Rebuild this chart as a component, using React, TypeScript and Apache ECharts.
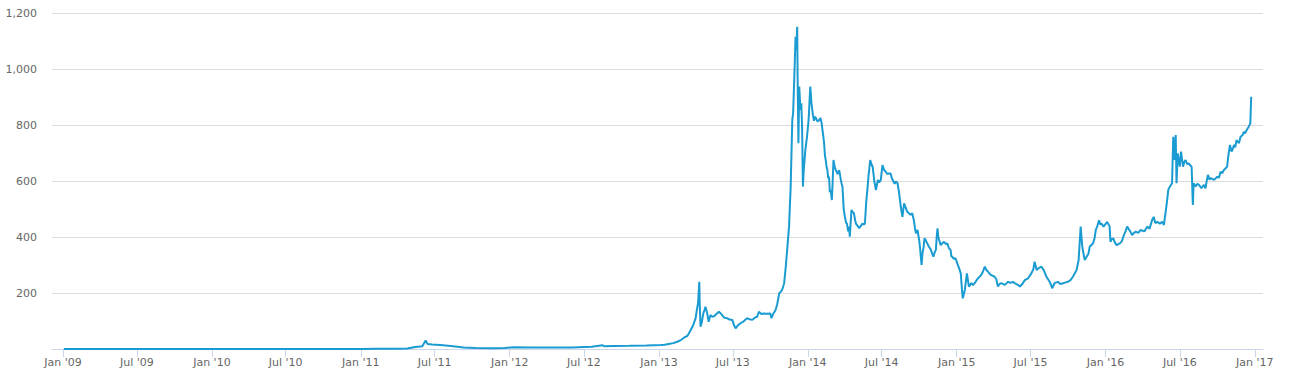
import React, { useEffect, useRef } from "react";
import * as echarts from "echarts";

// ---- Data ----
const dates2009_2012 = [
  "2009-01-03", "2010-07-18", "2010-10-01", "2010-11-06", "2011-01-01", "2011-02-10",
  "2011-04-01", "2011-04-25", "2011-05-15", "2011-06-01", "2011-06-09", "2011-06-14",
  "2011-06-25", "2011-07-15", "2011-08-10", "2011-09-10", "2011-10-10", "2011-11-18",
  "2011-12-20", "2012-01-10", "2012-02-20", "2012-04-01", "2012-06-01", "2012-07-20",
  "2012-08-16", "2012-08-20", "2012-09-10", "2012-10-20", "2012-12-01",
];
const prices2009_2012 = [
  0, 0.06, 0.06, 0.3, 0.3, 1,
  0.8, 1.6, 7, 10, 30, 18,
  16, 14, 11, 5, 3.5, 2.3,
  3.5, 6.5, 5, 5, 5.5, 8,
  13, 10, 11, 11.5, 12.5,
];

const dates2013 = [
  "2013-01-06", "2013-01-15", "2013-01-25", "2013-02-05", "2013-02-15", "2013-02-24",
  "2013-03-05", "2013-03-12", "2013-03-20", "2013-03-26", "2013-04-01", "2013-04-04",
  "2013-04-07", "2013-04-10", "2013-04-11", "2013-04-13", "2013-04-16", "2013-04-20",
  "2013-04-23", "2013-04-25", "2013-04-29", "2013-05-03", "2013-05-07", "2013-05-12",
  "2013-05-17", "2013-05-22", "2013-05-28", "2013-06-01", "2013-06-05", "2013-06-10",
  "2013-06-17", "2013-06-23", "2013-06-30", "2013-07-04", "2013-07-08", "2013-07-14",
  "2013-07-20", "2013-07-27", "2013-08-05", "2013-08-11", "2013-08-18", "2013-08-24",
  "2013-08-30", "2013-09-03", "2013-09-09", "2013-09-15", "2013-09-22", "2013-10-01",
  "2013-10-04", "2013-10-08", "2013-10-14", "2013-10-18", "2013-10-23", "2013-10-27",
  "2013-10-30", "2013-11-04", "2013-11-08", "2013-11-12", "2013-11-16", "2013-11-20",
  "2013-11-24", "2013-11-26", "2013-11-29", "2013-12-02", "2013-12-04", "2013-12-06",
  "2013-12-07", "2013-12-09", "2013-12-11", "2013-12-14", "2013-12-16", "2013-12-18",
  "2013-12-20", "2013-12-22", "2013-12-26", "2013-12-30",
];
const prices2013 = [
  14, 15, 18, 21, 26, 32,
  42, 47, 68, 85, 110, 140,
  165, 240, 160, 80, 95, 128,
  140, 151, 130, 97, 121, 115,
  118, 125, 133, 128, 121, 112,
  110, 105, 104, 85, 74, 85,
  92, 98, 110, 106, 104, 112,
  115, 133, 125, 127, 126, 127,
  110, 125, 139, 160, 199, 205,
  211, 235, 294, 365, 437, 580,
  818, 842, 973, 1115, 1068, 1151,
  973, 735, 937, 854, 878, 794,
  580, 639, 711, 758,
];

const dates2014 = [
  "2014-01-03", "2014-01-07", "2014-01-10", "2014-01-13", "2014-01-16", "2014-01-19",
  "2014-01-21", "2014-01-25", "2014-01-29", "2014-02-01", "2014-02-04", "2014-02-06",
  "2014-02-08", "2014-02-10", "2014-02-12", "2014-02-14", "2014-02-16", "2014-02-18",
  "2014-02-20", "2014-02-22", "2014-02-24", "2014-02-26", "2014-03-01", "2014-03-03",
  "2014-03-05", "2014-03-08", "2014-03-11", "2014-03-15", "2014-03-19", "2014-03-23",
  "2014-03-25", "2014-03-27", "2014-03-30", "2014-04-02", "2014-04-05", "2014-04-07",
  "2014-04-10", "2014-04-12", "2014-04-14", "2014-04-16", "2014-04-18", "2014-04-21",
  "2014-04-24", "2014-04-27", "2014-04-29", "2014-05-03", "2014-05-07", "2014-05-11",
  "2014-05-15", "2014-05-18", "2014-05-21", "2014-05-24", "2014-05-27", "2014-05-30",
  "2014-06-03", "2014-06-06", "2014-06-09", "2014-06-13", "2014-06-17", "2014-06-20",
  "2014-06-22", "2014-06-25", "2014-06-29", "2014-07-03", "2014-07-07", "2014-07-11",
  "2014-07-15", "2014-07-19", "2014-07-23", "2014-07-26", "2014-07-30", "2014-08-02",
  "2014-08-05", "2014-08-09", "2014-08-13", "2014-08-17", "2014-08-19", "2014-08-21",
  "2014-08-25", "2014-08-29", "2014-09-02", "2014-09-06", "2014-09-10", "2014-09-14",
  "2014-09-18", "2014-09-21", "2014-09-23", "2014-09-27", "2014-10-01", "2014-10-03",
  "2014-10-05", "2014-10-07", "2014-10-09", "2014-10-12", "2014-10-14", "2014-10-17",
  "2014-10-21", "2014-10-25", "2014-10-30", "2014-11-02", "2014-11-05", "2014-11-08",
  "2014-11-11", "2014-11-13", "2014-11-15", "2014-11-17", "2014-11-19", "2014-11-23",
  "2014-11-27", "2014-12-01", "2014-12-05", "2014-12-09", "2014-12-13", "2014-12-17",
  "2014-12-19", "2014-12-21", "2014-12-25", "2014-12-29",
];
const prices2014 = [
  818, 937, 878, 842, 815, 830,
  824, 812, 818, 825, 806, 782,
  760, 735, 690, 675, 650, 639,
  610, 615, 560, 568, 532, 600,
  675, 650, 639, 625, 639, 604,
  590, 580, 500, 472, 450, 448,
  420, 437, 401, 450, 496, 490,
  485, 460, 448, 440, 431, 440,
  448, 445, 448, 520, 568, 620,
  675, 660, 651, 600, 568, 590,
  604, 595, 604, 657, 640, 633,
  625, 627, 627, 610, 598, 590,
  598, 592, 556, 508, 490, 472,
  520, 505, 490, 485, 479, 485,
  460, 430, 413, 425, 389, 365,
  330, 300, 340, 365, 395, 389,
  377, 365, 354, 340, 330, 345,
  354, 400, 431, 400, 389, 371,
  378, 383, 375, 377, 360, 354,
  330, 330, 322, 324,
];

const dates2015 = [
  "2015-01-01", "2015-01-07", "2015-01-11", "2015-01-14", "2015-01-16", "2015-01-21",
  "2015-01-26", "2015-01-31", "2015-02-06", "2015-02-10", "2015-02-14", "2015-02-18",
  "2015-02-22", "2015-03-02", "2015-03-06", "2015-03-11", "2015-03-15", "2015-03-19",
  "2015-03-23", "2015-03-27", "2015-04-04", "2015-04-08", "2015-04-12", "2015-04-16",
  "2015-04-20", "2015-04-29", "2015-05-07", "2015-05-13", "2015-05-19", "2015-05-23",
  "2015-05-31", "2015-06-05", "2015-06-11", "2015-06-17", "2015-06-25", "2015-07-03",
  "2015-07-08", "2015-07-11", "2015-07-16", "2015-07-22", "2015-07-28", "2015-08-03",
  "2015-08-09", "2015-08-17", "2015-08-20", "2015-08-23", "2015-08-29", "2015-09-06",
  "2015-09-12", "2015-09-19", "2015-09-25", "2015-10-01", "2015-10-07", "2015-10-13",
  "2015-10-22", "2015-10-27", "2015-11-01", "2015-11-03", "2015-11-05", "2015-11-08",
  "2015-11-11", "2015-11-16", "2015-11-20", "2015-11-23", "2015-12-01", "2015-12-05",
  "2015-12-08", "2015-12-12", "2015-12-16", "2015-12-19", "2015-12-22", "2015-12-27",
];
const prices2015 = [
  312, 288, 270, 211, 181, 211,
  270, 223, 235, 228, 235, 244,
  252, 264, 275, 294, 282, 276,
  268, 264, 258, 250, 223, 232,
  235, 229, 240, 236, 240, 235,
  229, 223, 232, 246, 252, 270,
  285, 312, 282, 290, 294, 280,
  258, 240, 230, 217, 235, 240,
  232, 235, 238, 240, 246, 258,
  282, 318, 437, 400, 365, 340,
  318, 330, 340, 365, 377, 395,
  425, 440, 460, 445, 448, 437,
];

const dates2016 = [
  "2016-01-05", "2016-01-11", "2016-01-13", "2016-01-16", "2016-01-20", "2016-01-24",
  "2016-01-28", "2016-02-05", "2016-02-10", "2016-02-15", "2016-02-19", "2016-02-23",
  "2016-03-02", "2016-03-06", "2016-03-10", "2016-03-15", "2016-03-21", "2016-03-27",
  "2016-04-05", "2016-04-12", "2016-04-18", "2016-04-24", "2016-04-28", "2016-05-02",
  "2016-05-07", "2016-05-13", "2016-05-19", "2016-05-23", "2016-05-27", "2016-05-31",
  "2016-06-03", "2016-06-07", "2016-06-12", "2016-06-15", "2016-06-18", "2016-06-21",
  "2016-06-23", "2016-06-26", "2016-07-01", "2016-07-04", "2016-07-09", "2016-07-12",
  "2016-07-15", "2016-07-19", "2016-07-23", "2016-07-27", "2016-07-30", "2016-08-02",
  "2016-08-04", "2016-08-09", "2016-08-13", "2016-08-17", "2016-08-23", "2016-08-29",
  "2016-09-02", "2016-09-05", "2016-09-08", "2016-09-12", "2016-09-15", "2016-09-23",
  "2016-10-01", "2016-10-05", "2016-10-09", "2016-10-13", "2016-10-17", "2016-10-25",
  "2016-10-28", "2016-11-01", "2016-11-05", "2016-11-08", "2016-11-11", "2016-11-14",
  "2016-11-17", "2016-11-20", "2016-11-23", "2016-11-27", "2016-12-02", "2016-12-05",
  "2016-12-08", "2016-12-12", "2016-12-17", "2016-12-21", "2016-12-23",
];
const prices2016 = [
  454, 437, 383, 392, 395, 380,
  371, 377, 385, 407, 420, 437,
  419, 407, 414, 419, 415, 425,
  420, 437, 430, 460, 472, 450,
  454, 448, 454, 443, 485, 532,
  570, 580, 592, 758, 675, 764,
  592, 699, 651, 705, 651, 668,
  675, 660, 663, 655, 651, 514,
  592, 580, 590, 586, 574, 586,
  574, 600, 622, 605, 610, 604,
  615, 612, 633, 628, 639, 651,
  690, 729, 705, 715, 729, 720,
  746, 740, 735, 758, 764, 776,
  770, 782, 794, 806, 901,
];

const yTicks = [0, 200, 400, 600, 800, 1000, 1200];
const xTickYears = [2009, 2010, 2011, 2012, 2013, 2014, 2015, 2016, 2017];
const monthNames = ["Jan", "Feb", "Mar", "Apr", "May", "Jun", "Jul", "Aug", "Sep", "Oct", "Nov", "Dec"];

const toTs = (s: string) =>
  Date.UTC(+s.slice(0, 4), +s.slice(5, 7) - 1, +s.slice(8, 10));

const allDates = [...dates2009_2012, ...dates2013, ...dates2014, ...dates2015, ...dates2016];
const allPrices = [...prices2009_2012, ...prices2013, ...prices2014, ...prices2015, ...prices2016];
const seriesData = allDates.map((d, i) => [toTs(d), allPrices[i]]);

const xTickValues: number[] = [];
xTickYears.forEach((y) => {
  xTickValues.push(Date.UTC(y, 0, 1));
  if (y < 2017) xTickValues.push(Date.UTC(y, 6, 1));
});

const fmtThousands = (v: number) =>
  String(v).replace(/\B(?=(\d{3})+(?!\d))/g, ",");

export default function App() {
  const ref = useRef<HTMLDivElement>(null);
  useEffect(() => {
    if (!ref.current) return;
    const chart = echarts.init(ref.current, null, { renderer: "svg" });
    const font = "DejaVu Sans";
    chart.setOption({
      animation: false,
      backgroundColor: "#ffffff",
      grid: {
        left: 52,
        right: 28,
        top: 13,
        bottom: 31,
        containLabel: false,
        outerBoundsMode: "none",
      },
      xAxis: {
        type: "value",
        min: Date.UTC(2008, 11, 5),
        max: Date.UTC(2017, 0, 21),
        axisLine: { show: true, lineStyle: { color: "#ccd6eb", width: 1 } },
        axisTick: {
          show: true,
          length: 8,
          customValues: xTickValues,
          lineStyle: { color: "#ccd6eb", width: 1 },
        },
        axisLabel: {
          customValues: xTickValues,
          margin: 8,
          color: "#666666",
          fontFamily: font,
          fontSize: 11,
          formatter: (v: number) => {
            const d = new Date(v);
            const yy = String(d.getUTCFullYear() % 100).padStart(2, "0");
            return monthNames[d.getUTCMonth()] + " '" + yy;
          },
        },
        splitLine: { show: false },
      },
      yAxis: {
        type: "value",
        min: yTicks[0],
        max: yTicks[yTicks.length - 1],
        interval: 200,
        axisLine: { show: false },
        axisTick: { show: false },
        axisLabel: {
          margin: 15,
          color: "#666666",
          fontFamily: font,
          fontSize: 11,
          formatter: (v: number) => (v === 0 ? "" : fmtThousands(v)),
        },
        splitLine: { show: true, lineStyle: { color: "#dcdcdc", width: 1 } },
      },
      series: [
        {
          type: "line",
          data: seriesData,
          showSymbol: false,
          symbol: "none",
          lineStyle: { color: "#1a9bd1", width: 2 },
          z: 3,
        },
      ],
    });
    return () => chart.dispose();
  }, []);
  return (
    <div
      ref={ref}
      style={{ position: "fixed", left: 0, top: 0, width: 1291, height: 380 }}
    />
  );
}
